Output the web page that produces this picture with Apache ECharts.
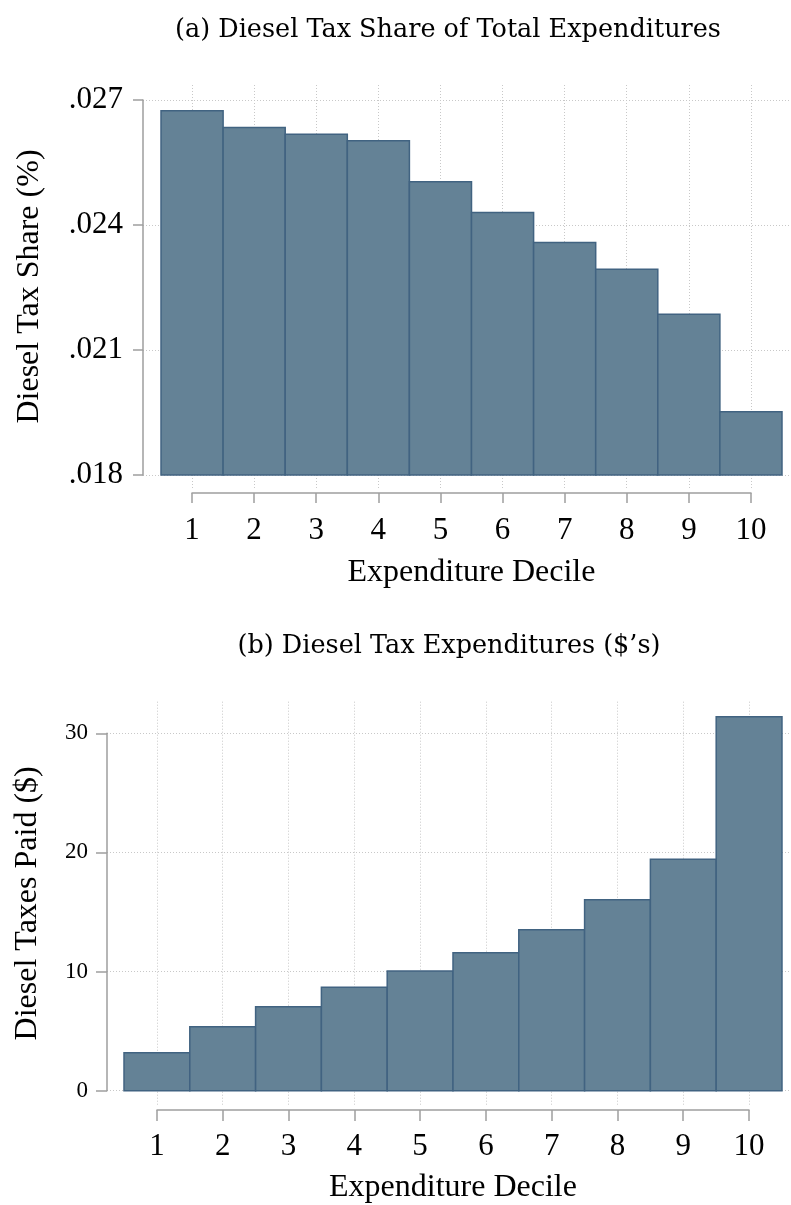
<!DOCTYPE html>
<html>
<head>
<meta charset="utf-8">
<script src="https://cdn.jsdelivr.net/npm/echarts@6/dist/echarts.min.js"></script>
<style>
html,body{margin:0;padding:0;background:#fff;}
#chart{width:791px;height:1205px;}
</style>
</head>
<body>
<div id="chart"></div>
<script>
// ---- data ----
const deciles = [1, 2, 3, 4, 5, 6, 7, 8, 9, 10];
const taxShare = [0.02674, 0.02634, 0.02618, 0.02602, 0.02504, 0.02430, 0.02358, 0.02294, 0.02186, 0.01952];
const taxPaid = [3.19, 5.37, 7.05, 8.68, 10.05, 11.59, 13.52, 16.04, 19.43, 31.40];
const shareTicks = [0.018, 0.021, 0.024, 0.027];
const paidTicks = [0, 10, 20, 30];
const titleA = '(a) Diesel Tax Share of Total Expenditures';
const titleB = '(b) Diesel Tax Expenditures ($\u2019s)';
const xTitle = 'Expenditure Decile';
const yTitleA = 'Diesel Tax Share (%)';
const yTitleB = 'Diesel Taxes Paid ($)';

// ---- styles ----
const SERIF = 'Liberation Serif';
const FILL = '#648296';
const EDGE = '#416381';
const AXIS = '#9e9e9e';
const GRIDC = '#c8c8c8';

const chart = echarts.init(document.getElementById('chart'), null, {renderer: 'canvas'});

function bars(values, base, xi, yi) {
  return {
    type: 'custom',
    xAxisIndex: xi, yAxisIndex: yi,
    data: deciles.map((d, i) => [d, values[i]]),
    renderItem: function (params, api) {
      const x = api.value(0), v = api.value(1);
      const p0 = api.coord([x - 0.5, v]);
      const p1 = api.coord([x + 0.5, base]);
      return {
        type: 'rect',
        shape: {x: p0[0], y: p0[1], width: p1[0] - p0[0], height: p1[1] - p0[1]},
        style: {fill: FILL, stroke: EDGE, lineWidth: 1.5}
      };
    },
    silent: true,
    z: 3
  };
}

const dotted = {show: true, lineStyle: {color: GRIDC, width: 1, type: [1, 2]}};
const hidden = (gi) => ({type: 'value', gridIndex: gi, show: false, min: 0, max: 1});
const titleStyle = {fontFamily: 'DejaVu Serif', fontSize: 25.5, fontWeight: 'normal', color: '#000'};
const nameStyle = {fontFamily: SERIF, fontSize: 32, color: '#000'};

const option = {
  animation: false,
  backgroundColor: '#fff',
  title: [
    {text: titleA, left: 443, top: 12, textAlign: 'center', textStyle: titleStyle},
    {text: titleB, left: 444, top: 628, textAlign: 'center', textStyle: titleStyle}
  ],
  grid: [
    // 0: plot region (a)
    {left: 143, top: 85, width: 648, height: 403},
    // 1: y axis (a)
    {left: 143, top: 100, width: 1, height: 375},
    // 2: x axis (a)
    {left: 192, top: 492, width: 559, height: 1},
    // 3: plot region (b)
    {left: 107, top: 701.7, width: 684, height: 403.3},
    // 4: y axis (b)
    {left: 107, top: 733.3, width: 1, height: 357.4},
    // 5: x axis (b)
    {left: 157, top: 1109, width: 592, height: 1}
  ],
  xAxis: [
    {type: 'value', gridIndex: 0, min: 0.21, max: 10.645,
     axisLine: {show: false}, axisLabel: {show: false},
     axisTick: {show: false, customValues: deciles},
     splitLine: dotted},
    hidden(1),
    {type: 'value', gridIndex: 2, position: 'bottom', min: 1, max: 10, interval: 1,
     axisLine: {show: true, lineStyle: {color: AXIS, width: 1.5}},
     axisTick: {show: true, length: 10, inside: false, lineStyle: {color: AXIS, width: 1.5}},
     axisLabel: {fontFamily: SERIF, fontSize: 31, color: '#000', margin: 22},
     splitLine: {show: false},
     name: xTitle, nameLocation: 'middle', nameGap: 64, nameTextStyle: nameStyle},
    {type: 'value', gridIndex: 3, min: 0.2416, max: 10.637,
     axisLine: {show: false}, axisLabel: {show: false},
     axisTick: {show: false, customValues: deciles},
     splitLine: dotted},
    hidden(4),
    {type: 'value', gridIndex: 5, position: 'bottom', min: 1, max: 10, interval: 1,
     axisLine: {show: true, lineStyle: {color: AXIS, width: 1.5}},
     axisTick: {show: true, length: 11, inside: false, lineStyle: {color: AXIS, width: 1.5}},
     axisLabel: {fontFamily: SERIF, fontSize: 31, color: '#000', margin: 21},
     splitLine: {show: false},
     name: xTitle, nameLocation: 'middle', nameGap: 62, nameTextStyle: nameStyle}
  ],
  yAxis: [
    {type: 'value', gridIndex: 0, min: 0.017688, max: 0.02736,
     axisLine: {show: false}, axisLabel: {show: false},
     axisTick: {show: false, customValues: shareTicks},
     splitLine: dotted,
     name: yTitleA, nameLocation: 'middle', nameGap: 97, nameTextStyle: nameStyle},
    {type: 'value', gridIndex: 1, position: 'left', min: 0.018, max: 0.027, interval: 0.003,
     axisLine: {show: true, lineStyle: {color: AXIS, width: 1.5}},
     axisTick: {show: true, length: 10, inside: false, lineStyle: {color: AXIS, width: 1.5}},
     axisLabel: {fontFamily: SERIF, fontSize: 31, color: '#000', margin: 20,
                 formatter: v => v.toFixed(3).replace(/^0/, '')},
     splitLine: {show: false}},
    hidden(2),
    {type: 'value', gridIndex: 3, min: -1.2, max: 32.66,
     axisLine: {show: false}, axisLabel: {show: false},
     axisTick: {show: false, customValues: paidTicks},
     splitLine: dotted,
     name: yTitleB, nameLocation: 'middle', nameGap: 63, nameTextStyle: nameStyle},
    {type: 'value', gridIndex: 4, position: 'left', min: 0, max: 30, interval: 10,
     axisLine: {show: true, lineStyle: {color: AXIS, width: 1.5}},
     axisTick: {show: true, length: 11, inside: false, lineStyle: {color: AXIS, width: 1.5}},
     axisLabel: {fontFamily: SERIF, fontSize: 23, color: '#000', margin: 19},
     splitLine: {show: false}},
    hidden(5)
  ],
  series: [
    bars(taxShare, shareTicks[0], 0, 0),
    bars(taxPaid, paidTicks[0], 3, 3)
  ]
};
chart.setOption(option);
</script>
</body>
</html>
